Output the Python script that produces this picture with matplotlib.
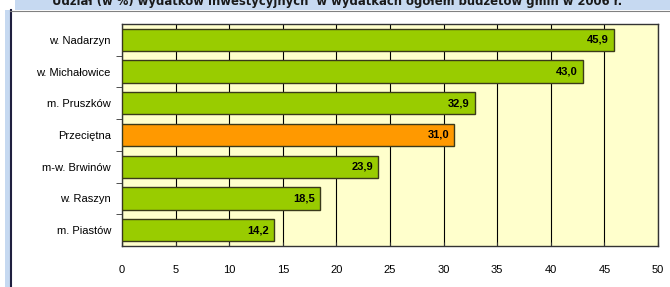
import matplotlib.pyplot as plt
from matplotlib.patches import Rectangle
from matplotlib.lines import Line2D

# Data
gminy = ['w. Nadarzyn', 'w. Michałowice', 'm. Pruszków', 'Przeciętna',
         'm-w. Brwinów', 'w. Raszyn', 'm. Piastów']
udzial = [45.9, 43.0, 32.9, 31.0, 23.9, 18.5, 14.2]
kolory = ['#99CC00', '#99CC00', '#99CC00', '#FF9900', '#99CC00', '#99CC00', '#99CC00']
x_ticks = [0, 5, 10, 15, 20, 25, 30, 35, 40, 45, 50]

plt.rcParams['font.family'] = ['Liberation Sans', 'DejaVu Sans']

fig = plt.figure(figsize=(6.7, 2.87), dpi=100)
W, H = 670, 287

# frame around the chart
fig.patches.append(Rectangle((15 / W, 1 - 10 / H), 1, 10 / H, transform=fig.transFigure,
                             facecolor='#C6D9F1', edgecolor='none', zorder=0))
fig.patches.append(Rectangle((5 / W, 0), 5 / W, 1 - 10 / H, transform=fig.transFigure,
                             facecolor='#C6D9F1', edgecolor='none', zorder=0))
fig.lines.append(Line2D([10.5 / W, 10.5 / W], [0, 1 - 10 / H], transform=fig.transFigure,
                        color='#1F1F3F', lw=1.5))
fig.lines.append(Line2D([10 / W, 1], [1 - 10.5 / H, 1 - 10.5 / H], transform=fig.transFigure,
                        color='#808080', lw=0.8))

fig.text(337 / W, 1 - 1 / H, 'Udział (w %) wydatków inwestycyjnych  w wydatkach ogółem budżetów gmin w 2006 r.',
         ha='center', va='center', fontsize=8.4, fontweight='bold', color='#1a1a1a',
         family=['DejaVu Sans'])

ax = fig.add_axes([122 / W, 1 - 246 / H, 536 / W, 222 / H])
ax.set_facecolor('#FFFFCC')

pos = list(range(len(gminy)))
bars = ax.barh(pos, udzial, height=0.7, color=kolory, edgecolor='#3a3a1a', linewidth=1, zorder=3)
for p, v in zip(pos, udzial):
    ax.text(v - 0.5, p, f'{v:.1f}'.replace('.', ','), ha='right', va='center',
            fontsize=8, fontweight='bold', zorder=4)

ax.set_xlim(0, 50)
ax.set_ylim(len(gminy) - 0.5, -0.5)
ax.set_xticks(x_ticks)
ax.xaxis.grid(True, color='black', linewidth=0.8, zorder=1)
ax.set_axisbelow(True)
ax.tick_params(axis='x', length=3, direction='in', labelsize=8, pad=14, colors='#333333', labelcolor='black')
ax.set_yticks(pos)
ax.set_yticklabels(gminy, fontsize=8)
ax.tick_params(axis='y', length=0, pad=8)
ax.set_yticks([p + 0.5 for p in pos[:-1]], minor=True)
ax.tick_params(axis='y', which='minor', length=4, color='#333333')
for s in ax.spines.values():
    s.set_color('#333333')
    s.set_linewidth(1)

fig.savefig('out.png', dpi=100)
